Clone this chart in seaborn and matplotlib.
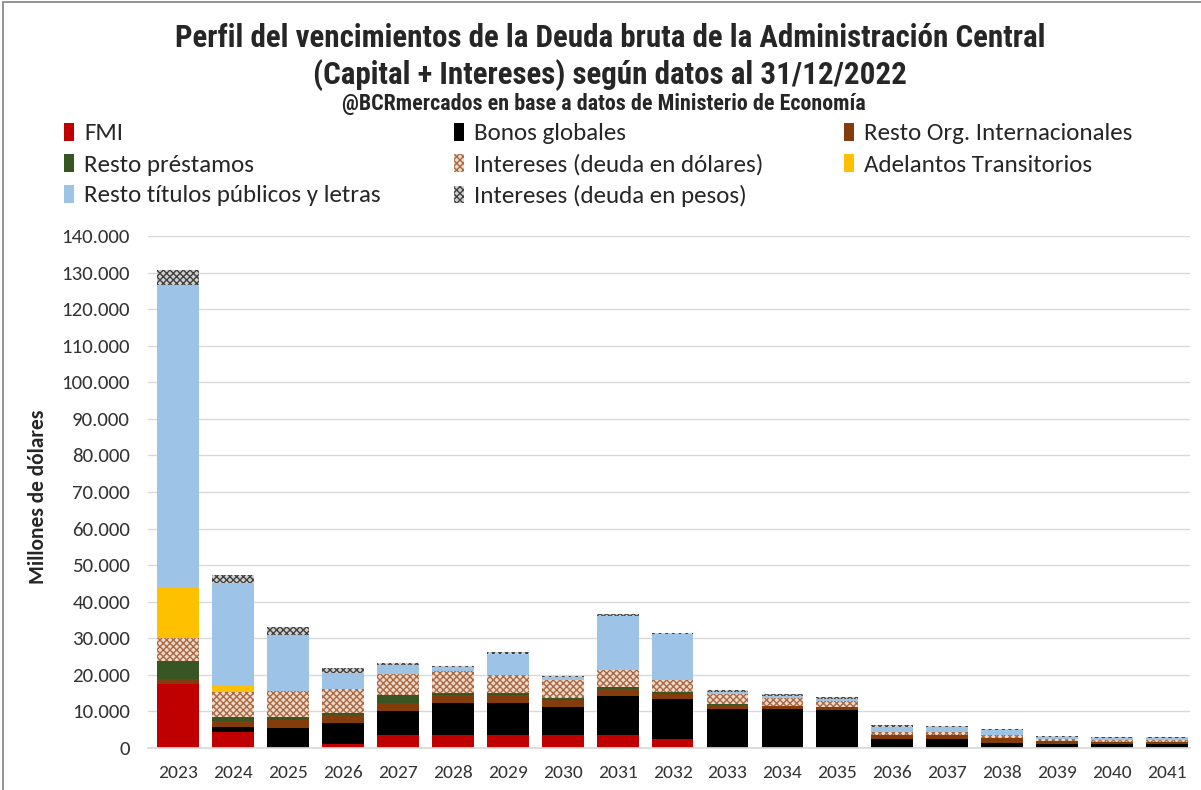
import numpy as np
import pandas as pd
import seaborn as sns
import matplotlib.pyplot as plt
from matplotlib.patches import Patch, Rectangle
from matplotlib.ticker import FuncFormatter

years = [str(y) for y in range(2023, 2042)]

# millones de dolares
fmi = [17500, 4500, 0, 1000, 3550, 3550, 3550, 3550, 3550, 2450,
       0, 0, 0, 0, 0, 0, 0, 0, 0]
bonos_globales = [0, 1300, 5500, 5900, 6650, 8850, 8850, 7750, 10650, 10850,
                  10600, 10600, 10400, 2400, 2400, 1500, 1000, 1000, 1000]
resto_org = [1500, 1600, 2100, 2100, 2100, 2000, 2000, 1800, 1850, 1450,
             1100, 900, 900, 1150, 1200, 1200, 900, 700, 700]
resto_prestamos = [4800, 1000, 900, 650, 2100, 550, 550, 500, 550, 450,
                   300, 0, 0, 0, 0, 0, 0, 0, 0]
intereses_usd = [6400, 6800, 7000, 6400, 5900, 6100, 5050, 5000, 4600, 3400,
                 2700, 2250, 1650, 900, 800, 850, 500, 500, 400]
adelantos = [13900, 2000, 0, 0, 0, 0, 0, 0, 0, 0,
             0, 0, 0, 0, 0, 0, 0, 0, 0]
resto_titulos = [82500, 27800, 15300, 4350, 2500, 1000, 5700, 700, 14900, 12500,
                 700, 550, 450, 1350, 1300, 1350, 700, 600, 600]
intereses_ars = [4100, 2300, 2300, 1400, 400, 500, 500, 500, 450, 400,
                 500, 500, 450, 500, 400, 300, 300, 300, 200]

series = [
    ("FMI", fmi, "#C00000", "#C00000", None),
    ("Bonos globales", bonos_globales, "#000000", "#000000", None),
    ("Resto Org. Internacionales", resto_org, "#843C0C", "#843C0C", None),
    ("Resto préstamos", resto_prestamos, "#375623", "#375623", None),
    ("Intereses (deuda en dólares)", intereses_usd, "#EFD9CB", "#A86A45", "xxxxx"),
    ("Adelantos Transitorios", adelantos, "#FFC000", "#FFC000", None),
    ("Resto títulos públicos y letras", resto_titulos, "#9DC3E6", "#9DC3E6", None),
    ("Intereses (deuda en pesos)", intereses_ars, "#D0D0D0", "#404040", "xxxxx"),
]

sns.set_theme(style="whitegrid")
body_font = ['Carlito', 'DejaVu Sans']
title_font = ['Roboto Condensed', 'DejaVu Sans']
plt.rcParams['font.family'] = body_font
plt.rcParams['hatch.linewidth'] = 1.0

fig = plt.figure(figsize=(12.01, 7.90), dpi=100)
ax = fig.add_axes([148 / 1201, 1 - 748 / 790, (1190 - 148) / 1201, (748 - 236) / 790])

df = pd.DataFrame({name: vals for name, vals, *_ in series}, index=years)
cum = df.cumsum(axis=1)

# stacked bars: draw cumulative totals from the top layer down
for name, vals, face, edge, hatch in reversed(series):
    n_before = len(ax.patches)
    sns.barplot(x=years, y=cum[name].values, color=face, saturation=1,
                width=0.76, ax=ax)
    for p in ax.patches[n_before:]:
        p.set_facecolor(face)
        p.set_edgecolor(edge)
        p.set_linewidth(0)
        if hatch:
            p.set_hatch(hatch)

ax.set_ylim(0, 140000)
ax.set_xlim(-0.55, 18.42)
ax.set_yticks(np.arange(0, 140001, 10000))
ax.yaxis.set_major_formatter(FuncFormatter(lambda v, p: f"{v:,.0f}".replace(",", ".")))
ax.grid(axis="y", color="#D9D9D9", linewidth=1)
ax.grid(axis="x", visible=False)
for s in ["top", "right", "left"]:
    ax.spines[s].set_visible(False)
ax.spines["bottom"].set_color("#D9D9D9")
ax.tick_params(axis="y", labelsize=15, pad=13, length=0, colors="#333333")
ax.tick_params(axis="x", labelsize=14, pad=12, length=0, colors="#333333")
ax.set_xlabel("")
ax.set_ylabel("")

fig.text(38 / 1201, 1 - 497 / 790, "Millones de dólares", rotation=90,
         ha="center", va="center", fontsize=15.5, fontweight="bold", color="#262626")

fig.text(0.508, 1 - 38 / 790, "Perfil del vencimientos de la Deuda bruta de la Administración Central",
         ha="center", va="center", fontsize=22.3, fontweight="bold", family=title_font)
fig.text(0.508, 1 - 75 / 790, "(Capital + Intereses) según datos al 31/12/2022",
         ha="center", va="center", fontsize=22.3, fontweight="bold", family=title_font)
fig.text(0.503, 1 - 104 / 790, "@BCRmercados en base a datos de Ministerio de Economía",
         ha="center", va="center", fontsize=15.8, fontweight="bold", family=title_font)

# legend: three columns at fixed positions
handles = {name: Patch(facecolor=face, edgecolor=edge, linewidth=0, hatch=hatch)
           for name, vals, face, edge, hatch in series}
columns = [
    ["FMI", "Resto préstamos", "Resto títulos públicos y letras"],
    ["Bonos globales", "Intereses (deuda en dólares)", "Intereses (deuda en pesos)"],
    ["Resto Org. Internacionales", "Adelantos Transitorios"],
]
for x0, names in zip([64, 454, 844], columns):
    fig.legend([handles[n] for n in names], names, loc="upper left",
               bbox_to_anchor=(x0 / 1201, 1 - 123 / 790), frameon=False,
               prop={'family': body_font, 'size': 18},
               labelcolor="#262626", handlelength=0.4, handleheight=0.7,
               handletextpad=0.4, labelspacing=0.38, borderaxespad=0,
               borderpad=0)

fig.add_artist(Rectangle((3 / 1201, -0.1), 1.2, 1 - 2 / 790 + 0.1, fill=False,
                         edgecolor="#808080", linewidth=1.2, transform=fig.transFigure))

fig.savefig("out.png", dpi=100)
